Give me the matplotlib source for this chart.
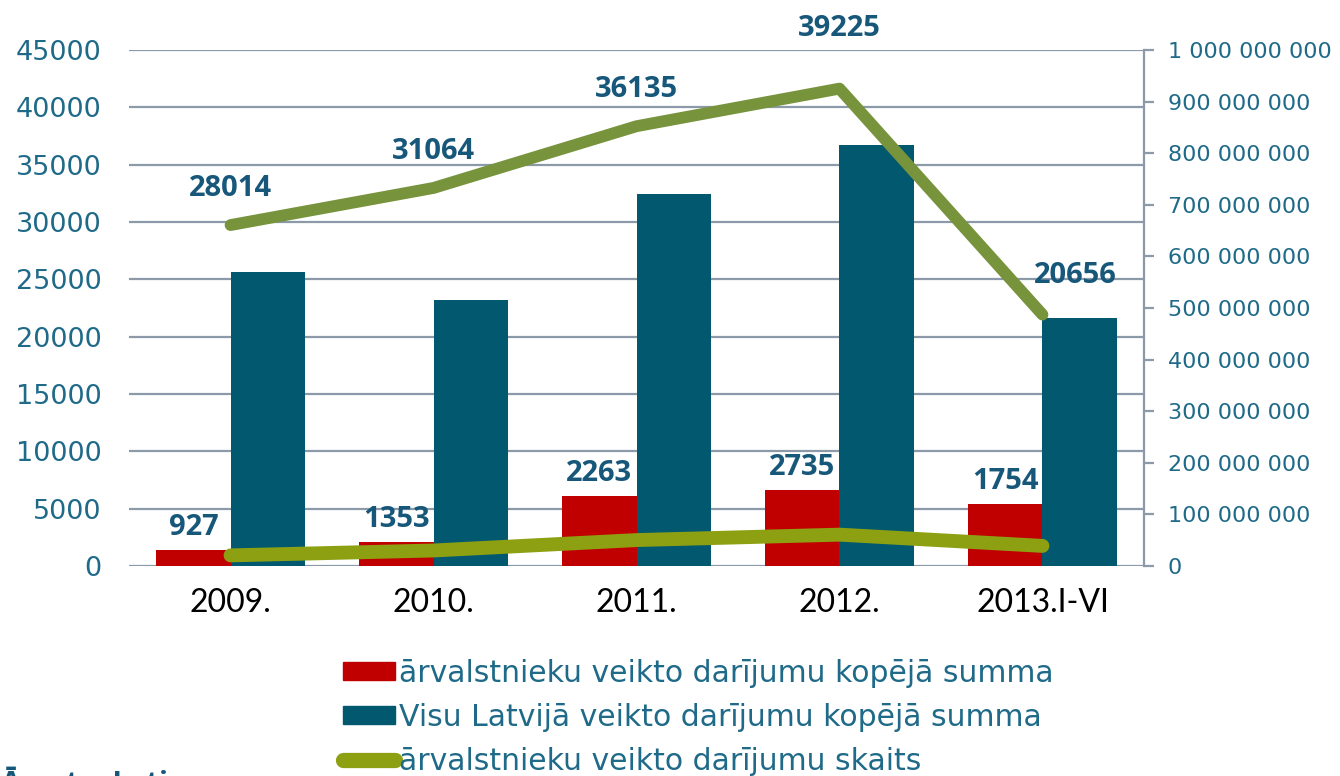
import numpy as np
import matplotlib
matplotlib.use('Agg')
import matplotlib.pyplot as plt
from matplotlib.ticker import FuncFormatter, MultipleLocator
from matplotlib.patches import Patch
from matplotlib.lines import Line2D

years = ['2009.', '2010.', '2011.', '2012.', '2013.I-VI']
# darijumu summas (right axis)
foreign_sum = [31e6, 46e6, 135e6, 147e6, 120e6]
latvia_sum = [570e6, 515e6, 721e6, 816e6, 481e6]
# darijumu skaits (left axis)
foreign_cnt = [927, 1353, 2263, 2735, 1754]
latvia_cnt = [28014, 31064, 36135, 39225, 20656]

# label offsets (points) for the upper line
up_offsets = [(0, 16), (0, 16), (0, 16), (0, 33), (24, 18)]

red = '#C00000'
teal = '#02586E'
green_up = '#77933C'
green_low = '#8DA012'
tick_col = '#1F6A88'
lbl_col = '#17577A'
grid_col = '#8C99A8'

plt.rcParams['font.family'] = ['DejaVu Sans']
bold_font = ['Open Sans', 'DejaVu Sans']

fig = plt.figure(figsize=(13.4, 7.76), dpi=100)
rect = [0.0963, 0.2706, 0.7574, 0.665]
ax = fig.add_axes(rect)
x = np.arange(len(years))
w = 0.365

# background axis: left scale + grid
ax.set_xlim(-0.5, len(years) - 0.5)
ax.set_ylim(0, 45000)
ax.yaxis.set_major_locator(MultipleLocator(5000))
ax.grid(axis='y', color=grid_col, linewidth=1.6)
ax.set_axisbelow(True)
for s in ax.spines.values():
    s.set_visible(False)
ax.tick_params(axis='y', length=0, pad=20, labelsize=19.5, labelcolor=tick_col)
ax.set_xticks(x)
ax.set_xticklabels(years, family=['Lato', 'DejaVu Sans'], fontsize=23)
ax.tick_params(axis='x', length=0, pad=16, labelcolor='black')

# bars on right scale
ax2 = ax.twinx()
ax2.patch.set_visible(False)
ax2.bar(x - w / 2, foreign_sum, w, color=red, zorder=2)
ax2.bar(x + w / 2, latvia_sum, w, color=teal, zorder=2)
ax2.set_ylim(0, 1e9)
ax2.yaxis.set_major_locator(MultipleLocator(1e8))
ax2.yaxis.set_major_formatter(FuncFormatter(lambda v, p: f'{int(round(v)):,}'.replace(',', ' ')))
for k, s in ax2.spines.items():
    s.set_visible(k == 'right')
ax2.spines['right'].set_color(grid_col)
ax2.spines['right'].set_linewidth(1.6)
ax2.tick_params(axis='y', length=7, width=1.6, color=grid_col, pad=10,
                labelsize=16, labelcolor=tick_col)

# lower line on left scale
ax3 = ax.twinx()
ax3.patch.set_visible(False)
ax3.set_ylim(0, 45000)
ax3.axis('off')
ax3.plot(x, foreign_cnt, color=green_low, lw=10, solid_capstyle='round', solid_joinstyle='round')
for i, v in enumerate(foreign_cnt):
    ax2.annotate(str(v), (x[i] - w / 2, foreign_sum[i]), xytext=(0, 6), textcoords='offset points',
                 ha='center', va='bottom', fontsize=21, fontweight='bold', color=lbl_col,
                 family=bold_font, zorder=5)

# upper line, own scale
ax4 = ax.twinx()
ax4.patch.set_visible(False)
ax4.set_ylim(0, 42400)
ax4.axis('off')
ax4.plot(x, latvia_cnt, color=green_up, lw=8.5, solid_capstyle='round', solid_joinstyle='round')
for i, v in enumerate(latvia_cnt):
    ax4.annotate(str(v), (x[i], v), xytext=up_offsets[i], textcoords='offset points',
                 ha='center', va='bottom', fontsize=21, fontweight='bold', color=lbl_col,
                 family=bold_font)

handles = [
    Patch(color=red, label='ārvalstnieku veikto darījumu kopējā summa'),
    Patch(color=teal, label='Visu Latvijā veikto darījumu kopējā summa'),
    Line2D([0], [0], color=green_low, lw=11, solid_capstyle='round',
           label='ārvalstnieku veikto darījumu skaits'),
]
fig.legend(handles=handles, loc='upper left', bbox_to_anchor=(0.245, 0.17),
           frameon=False, fontsize=21.5, labelcolor=tick_col, handlelength=1.75,
           handleheight=0.55, handletextpad=0.12, labelspacing=0.5, borderpad=0)

fig.text(0.0, 1 - 770 / 776, 'Āmata. Latio', ha='left', va='top', fontsize=21,
         fontweight='bold', color=lbl_col, family=bold_font)

fig.savefig('out.png', dpi=100)
